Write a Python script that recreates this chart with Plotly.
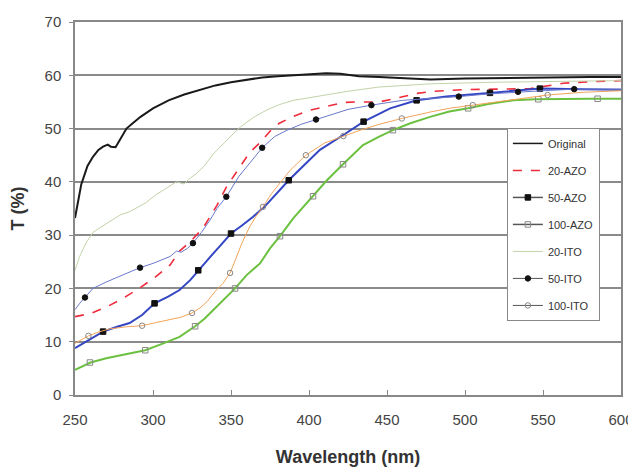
import plotly.graph_objects as go

# ---------------- data ----------------
orig_x = [250, 252, 254, 256.4, 258, 261.5, 265, 268, 271, 273, 276, 279, 283, 287, 292, 300, 310, 320, 330, 340, 350, 360, 370, 380, 390, 400, 411, 420, 432, 445, 460, 478, 500, 520, 542, 563, 580, 600]
orig_y = [33.2, 36.6, 39.5, 41.6, 43.0, 44.7, 46.0, 46.6, 47.0, 46.6, 46.5, 48.0, 50.0, 51.0, 52.2, 53.8, 55.3, 56.4, 57.3, 58.1, 58.7, 59.2, 59.6, 59.8, 60.0, 60.2, 60.4, 60.3, 59.8, 59.7, 59.5, 59.2, 59.4, 59.5, 59.5, 59.7, 59.7, 59.7]

azo20_x = [250, 260, 270, 280, 290, 300, 311, 317, 324, 332, 341, 347, 355, 362, 369, 375, 381, 390, 400, 411, 422, 430, 445, 456, 469, 480, 499, 520, 542, 563, 580, 600]
azo20_y = [14.7, 15.3, 16.5, 18.0, 19.8, 21.8, 24.4, 27.0, 28.8, 31.3, 35.6, 39.0, 42.5, 45.5, 47.5, 49.5, 51.0, 52.3, 53.4, 54.2, 54.9, 55.0, 55.0, 55.7, 56.6, 57.0, 57.3, 57.4, 57.5, 58.5, 58.8, 59.0]

azo50_x = [250, 260, 268, 277, 285, 293, 301, 310, 317, 324, 329, 336, 343, 350, 357, 364, 372, 381, 387, 395, 407, 422, 435, 452, 469, 488, 516, 548, 575, 600]
azo50_y = [8.8, 10.6, 11.9, 12.8, 13.5, 15.0, 17.2, 18.5, 19.7, 21.6, 23.4, 25.7, 28.0, 30.3, 31.8, 33.4, 35.5, 38.5, 40.3, 42.6, 46.0, 48.8, 51.3, 53.8, 55.3, 56.0, 56.7, 57.5, 57.4, 57.3]
azo50_mx = [268, 301, 329, 350, 387, 435, 469, 516, 548]
azo50_my = [11.9, 17.2, 23.4, 30.3, 40.3, 51.3, 55.3, 56.7, 57.5]

azo100_x = [250, 260, 270, 280, 295, 305, 317, 327, 333, 338.5, 345, 352.6, 360, 368.6, 375, 381.4, 390, 402.6, 411.5, 421.8, 434.6, 445, 453.8, 465, 477.6, 490, 502, 515, 531, 545, 563, 580, 600]
azo100_y = [4.7, 6.1, 6.9, 7.5, 8.4, 9.5, 10.9, 12.9, 14.3, 15.9, 17.8, 20.0, 22.5, 24.7, 27.5, 29.8, 33.2, 37.3, 40.3, 43.3, 46.9, 48.5, 49.7, 51.0, 52.2, 53.2, 53.8, 54.6, 55.3, 55.5, 55.6, 55.6, 55.6]
azo100_mx = [259.6, 295, 327, 352.6, 381.4, 402.6, 421.8, 453.8, 502, 547, 585]
azo100_my = [6.1, 8.4, 12.9, 20.0, 29.8, 37.3, 43.3, 49.7, 53.8, 55.5, 55.6]

ito20_x = [250, 253, 257, 261.5, 266, 272, 279, 285, 295, 302, 310, 315, 320, 323, 328, 333, 338.5, 343, 350, 356, 365, 373, 381, 390, 400, 411, 425, 445, 478, 520, 560, 600]
ito20_y = [23.4, 26.0, 28.5, 30.5, 31.4, 32.5, 33.8, 34.4, 36.0, 37.6, 39.0, 40.0, 39.6, 40.5, 41.6, 43.0, 45.2, 46.6, 48.6, 50.3, 52.2, 53.5, 54.5, 55.3, 55.8, 56.3, 57.0, 57.8, 58.4, 58.7, 58.9, 59.0]

ito50_x = [250, 253, 256.4, 261.5, 270, 280, 291.7, 300, 311, 315, 318, 322, 325.6, 331, 336.5, 341, 347, 355, 362, 370, 378, 386, 395, 404.5, 414, 425, 440, 460, 480, 496, 515, 534, 550, 570, 600]
ito50_y = [16.0, 17.2, 18.3, 20.0, 21.2, 22.4, 23.9, 24.7, 26.0, 27.0, 26.8, 27.5, 28.5, 30.5, 32.8, 35.0, 37.2, 41.0, 43.6, 46.4, 48.5, 49.7, 50.8, 51.7, 52.7, 53.6, 54.4, 55.3, 55.7, 56.0, 56.5, 56.9, 57.1, 57.4, 57.4]
ito50_mx = [256.4, 291.7, 325.6, 347, 370, 404.5, 440, 496, 534, 570]
ito50_my = [18.3, 23.9, 28.5, 37.2, 46.4, 51.7, 54.4, 56.0, 56.9, 57.4]

ito100_x = [250, 258.6, 265, 272, 283, 293, 302, 311, 318, 325, 330, 334.6, 340, 345, 349.4, 353, 357, 362, 366, 370.5, 376, 388, 398, 410, 422, 433, 445, 459.5, 477.6, 490, 505, 520, 535, 553, 575, 600]
ito100_y = [9.7, 11.1, 11.8, 12.4, 12.8, 13.0, 13.6, 14.1, 14.6, 15.4, 16.3, 17.5, 19.5, 21.0, 22.9, 25.5, 28.5, 31.6, 33.5, 35.3, 37.8, 42.2, 45.0, 47.3, 48.6, 49.7, 50.8, 51.9, 53.1, 53.8, 54.4, 55.0, 55.6, 56.3, 56.8, 57.1]
ito100_mx = [258.6, 293, 325, 349.4, 370.5, 398, 422, 459.5, 505, 553]
ito100_my = [11.1, 13.0, 15.4, 22.9, 35.3, 45.0, 48.6, 51.9, 54.4, 56.3]

x_ticks = [250, 300, 350, 400, 450, 500, 550, 600]
y_ticks = [0, 10, 20, 30, 40, 50, 60, 70]

# ---------------- styles ----------------
series = [
    ("Original", orig_x, orig_y, None, None, "#1a1a1a", 2.0, "solid", None, None, None),
    ("20-AZO", azo20_x, azo20_y, None, None, "#ee2b3b", 1.6, "dash", None, None, None),
    ("50-AZO", azo50_x, azo50_y, azo50_mx, azo50_my, "#3446c2", 2.0, "solid", "square", "#111111", "#111111"),
    ("100-AZO", azo100_x, azo100_y, azo100_mx, azo100_my, "#6cc040", 2.0, "solid", "square-open", "#888888", "#888888"),
    ("20-ITO", ito20_x, ito20_y, None, None, "#c3d3a9", 1.0, "solid", None, None, None),
    ("50-ITO", ito50_x, ito50_y, ito50_mx, ito50_my, "#6a78cc", 1.0, "solid", "circle", "#111111", "#111111"),
    ("100-ITO", ito100_x, ito100_y, ito100_mx, ito100_my, "#f4a458", 1.0, "solid", "circle-open", "#888888", "#888888"),
]

fig = go.Figure()
for name, xs, ys, mx, my, col, w, dash, sym, mfill, mline in series:
    fig.add_trace(go.Scatter(x=xs, y=ys, mode="lines", showlegend=False,
                             line=dict(color=col, width=w, dash=dash),
                             hoverinfo="skip"))
    if mx is not None:
        fig.add_trace(go.Scatter(x=mx, y=my, mode="markers", showlegend=False,
                                 marker=dict(symbol=sym, size=5.5, color=mfill,
                                             line=dict(color=mline, width=1)),
                                 hoverinfo="skip"))

# legend entries
for name, xs, ys, mx, my, col, w, dash, sym, mfill, mline in series:
    lcol = col if name in ("20-AZO", "20-ITO", "Original") else "#555555"
    if mx is not None:
        fig.add_trace(go.Scatter(x=[None], y=[None], mode="lines+markers", name=name,
                                 legendgroup=name,
                                 line=dict(color=lcol, width=1.5 if w > 1 else 1, dash=dash),
                                 marker=dict(symbol=sym, size=5.5, color=mfill,
                                             line=dict(color=mline, width=1))))
    else:
        fig.add_trace(go.Scatter(x=[None], y=[None], mode="lines", name=name,
                                 legendgroup=name,
                                 line=dict(color=lcol, width=1.5 if w > 1 else 1, dash=dash)))

fig.update_layout(
    width=628, height=462,
    margin=dict(l=67, r=15, t=14, b=75, autoexpand=False),
    paper_bgcolor="white", plot_bgcolor="white",
    font=dict(family="Liberation Sans, Arial, sans-serif", color="#444444"),
    legend=dict(x=0.791, y=0.716, xanchor="left", yanchor="top",
                bgcolor="white", bordercolor="#888888", borderwidth=1,
                font=dict(size=11, color="#333333"), tracegroupgap=8,
                itemwidth=30),
    xaxis=dict(range=[250, 600], tickvals=x_ticks, ticks="inside", ticklen=5,
               tickcolor="#888888", showgrid=False, showline=True, mirror=True,
               linecolor="#888888", linewidth=1.5, zeroline=False, automargin=False,
               tickfont=dict(size=15, color="#444444"), ticklabelstandoff=10,
               title=dict(text="<b>Wavelength (nm)</b>", font=dict(size=18, color="#333333"),
                          standoff=24)),
    yaxis=dict(range=[0, 70], tickvals=y_ticks, ticks="outside", ticklen=4,
               tickcolor="#888888", showgrid=True, gridcolor="#8a8a8a", gridwidth=1.5,
               showline=True, mirror=True, linecolor="#888888", linewidth=1.5,
               zeroline=False, automargin=False, tickfont=dict(size=15, color="#444444"),
               ticklabelstandoff=5,
               title=dict(text="<b>T (%)</b>", font=dict(size=18, color="#333333"),
                          standoff=16)),
)

fig.write_html("out.html")
